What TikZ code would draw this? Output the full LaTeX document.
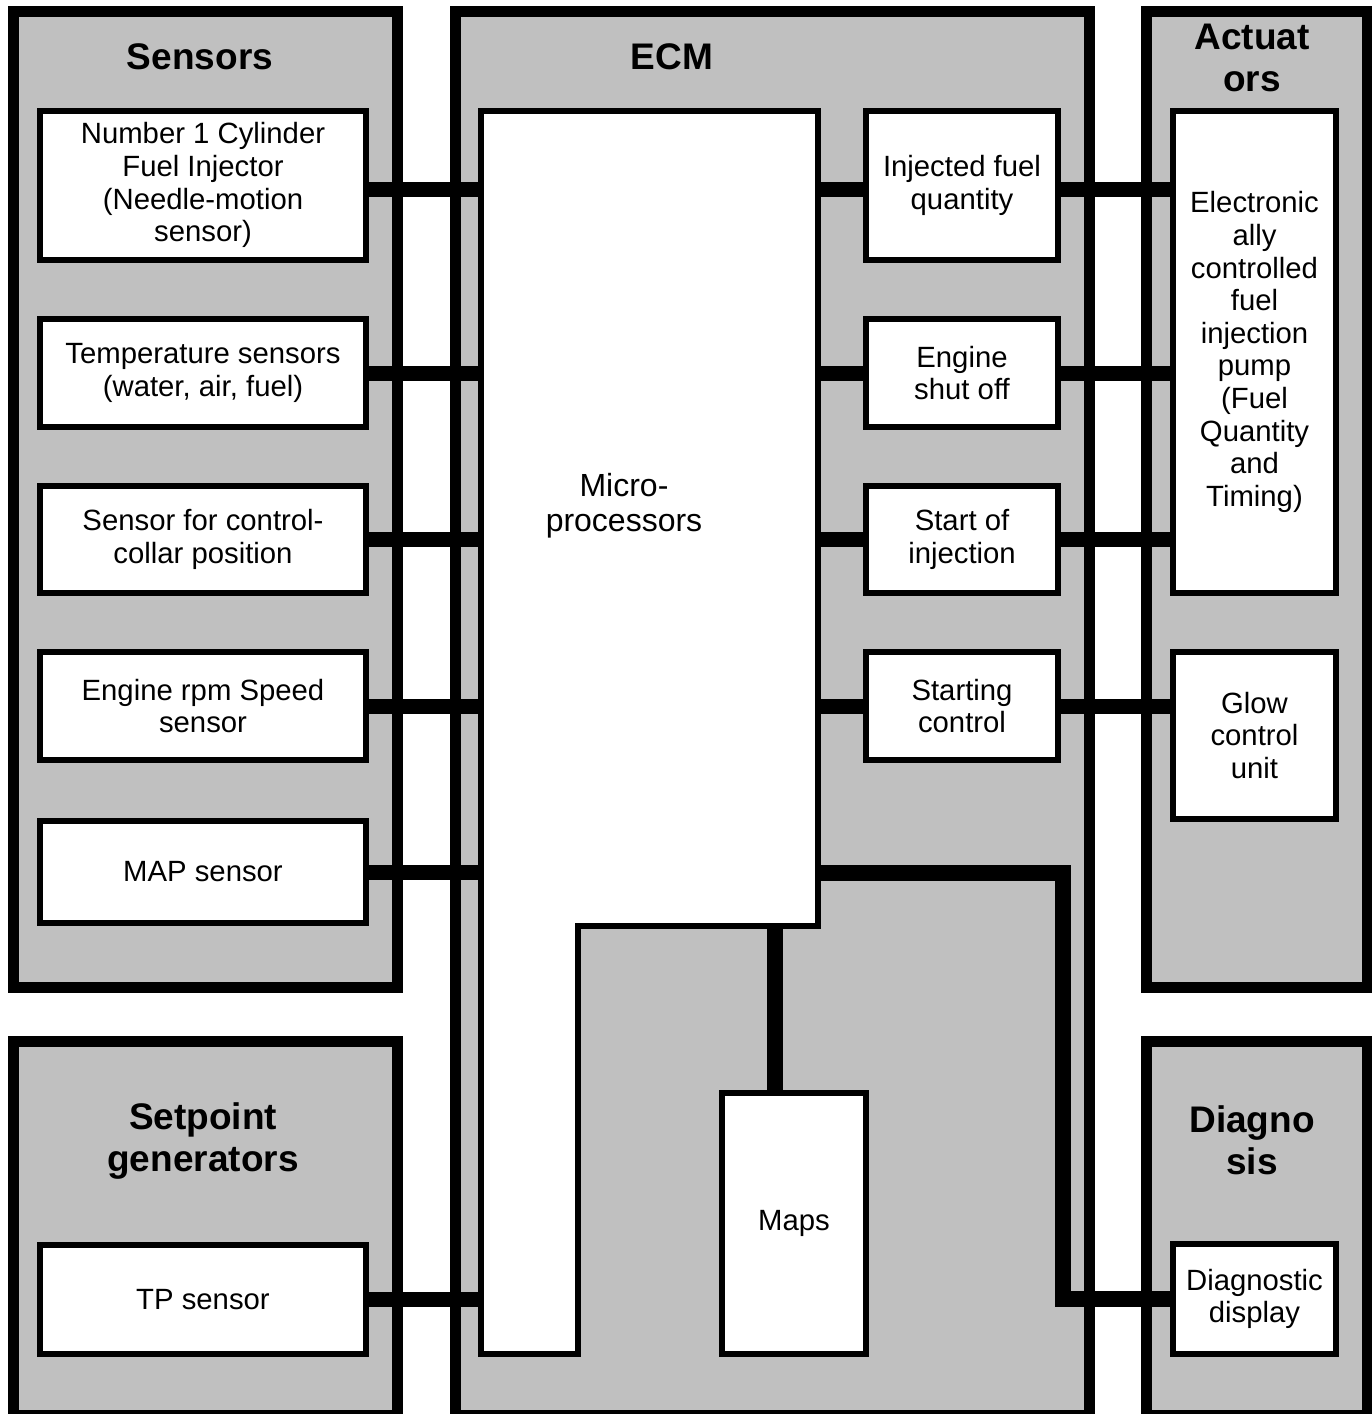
\documentclass[tikz,border=0pt]{standalone}
\usepackage{fontspec}
\setmainfont{Liberation Sans}
\usepackage{tikz}
\usetikzlibrary{positioning,calc}
\definecolor{panelgray}{RGB}{192,192,192}

\tikzset{
  panel/.style={draw, fill=panelgray, line width=11pt},
  title/.style={font=\fontsize{37}{42}\selectfont\bfseries, align=center, inner sep=0pt},
  unitbox/.style={draw, fill=white, line width=6pt, inner sep=0pt, outer sep=0pt,
    align=center, anchor=north west, font=\fontsize{29.3}{32.6}\selectfont},
  sensbox/.style={unitbox, minimum width=326pt},
  ctrlbox/.style={unitbox, minimum width=192pt},
  actbox/.style={unitbox, minimum width=163pt},
  wire/.style={line width=15pt},
}

\begin{document}
\begin{tikzpicture}[x=1pt, y=-1pt]
    \clip (0,0) rectangle (1372,1414);
    % grey panels
    \draw[panel] (13.5,11.5) rectangle (397.5,987.5);
    \draw[panel] (13.5,1041.5) rectangle (397.5,1415.5);
    \draw[panel] (455.5,11.5) rectangle (1089,1415.5);
    \draw[panel] (1146.5,11.5) rectangle (1367,987.5);
    \draw[panel] (1146.5,1041.5) rectangle (1367,1415.5);
    \node[title] (senstitle) at (200,57) {Sensors};
    \node[title] (ecmtitle) at (672,57) {ECM};
    \node[title] (acttitle) at (1252,58) {Actuat\\ors};
    \node[title] (spgtitle) at (203,1141) {Setpoint\\generators};
    \node[title] (diagtitle) at (1252,1140) {Diagno\\sis};

    % corners of the microprocessor block
    \coordinate (mpNW) at (481,111);
    \coordinate (mpNE) at (818,111);
    \coordinate (mpSE) at (818,926);
    \coordinate (mpN) at (578,926);
    \coordinate (mpS) at (578,1354);
    \coordinate (mpSW) at (481,1354);
    \coordinate (diagtap) at (1063,873);

    % sensors
    \node[sensbox, minimum height=149.5pt] (numone) at (40,110.5)
      {Number 1 Cylinder\\Fuel Injector\\(Needle-motion\\sensor)};
    \node[sensbox, minimum height=108pt] (temp) at (40,319)
      {Temperature sensors\\(water, air, fuel)};
    \node[sensbox, minimum height=107pt] (collar) at (40,486)
      {Sensor for control-\\collar position};
    \node[sensbox, minimum height=108pt] (rpm) at (40,652)
      {Engine rpm Speed\\sensor};
    \node[sensbox, minimum height=102pt] (map) at (40,821) {MAP sensor};
    \node[sensbox, minimum height=109.5pt] (tps) at (40,1244.5) {TP sensor};

    % ECM functions
    \node[ctrlbox, minimum height=149pt] (injq) at (866,111) {Injected fuel\\quantity};
    \node[ctrlbox, minimum height=108pt] (shutoff) at (866,319) {Engine\\shut off};
    \node[ctrlbox, minimum height=107pt] (soi) at (866,486) {Start of\\injection};
    \node[ctrlbox, minimum height=108pt] (startctl) at (866,652) {Starting\\control};
    \node[unitbox, minimum width=144pt, minimum height=261pt] (maps) at (722,1093) {Maps};

    % actuators and diagnosis
    \node[actbox, minimum height=482pt] (pump) at (1173,111)
      {Electronic\\ally\\controlled\\fuel\\injection\\pump\\(Fuel\\Quantity\\and\\Timing)};
    \node[actbox, minimum height=167pt] (glow) at (1173,652) {Glow\\control\\unit};
    \node[actbox, minimum height=110pt] (diagdisp) at (1173,1244) {Diagnostic\\display};

    % connectors into the microprocessors
    \draw[wire] ([yshift=-4pt]numone.east) -- ([yshift=-4pt]numone.east -| mpNW);
    \draw[wire] (temp.east) -- (temp.east -| mpNW);
    \draw[wire] (collar.east) -- (collar.east -| mpNW);
    \draw[wire] (rpm.east) -- (rpm.east -| mpNW);
    \draw[wire] (map.east) -- (map.east -| mpNW);
    \draw[wire] (tps.east) -- (tps.east -| mpNW);
    % connectors out to the actuators
    \draw[wire] ([yshift=-4pt]injq.west -| mpNE) -- ([yshift=-4pt]injq.west);
    \draw[wire] ([yshift=-4pt]injq.east) -- ([yshift=-4pt]injq.east -| pump.west);
    \draw[wire] (shutoff.west -| mpNE) -- (shutoff.west);
    \draw[wire] (shutoff.east) -- (shutoff.east -| pump.west);
    \draw[wire] (soi.west -| mpNE) -- (soi.west);
    \draw[wire] (soi.east) -- (soi.east -| pump.west);
    \draw[wire] (startctl.west -| mpNE) -- (startctl.west);
    \draw[wire] (startctl.east) -- (startctl.east -| glow.west);
    \draw[wire, line width=16pt] ([xshift=-19pt]maps.north) -- ([xshift=-19pt]maps.north |- mpSE);
    \draw[wire, line width=16pt] (diagtap -| mpNE) -- (diagtap) |- (diagdisp.west);

    % microprocessor block
    \draw[line width=6pt, fill=white] (mpNW) -- (mpNE) -- (mpSE) -- (mpN) -- (mpS) -- (mpSW) -- cycle;
    \node[font=\fontsize{32}{35}\selectfont, align=center] (mptext) at (624,506) {Micro-\\processors};
\end{tikzpicture}
\end{document}
